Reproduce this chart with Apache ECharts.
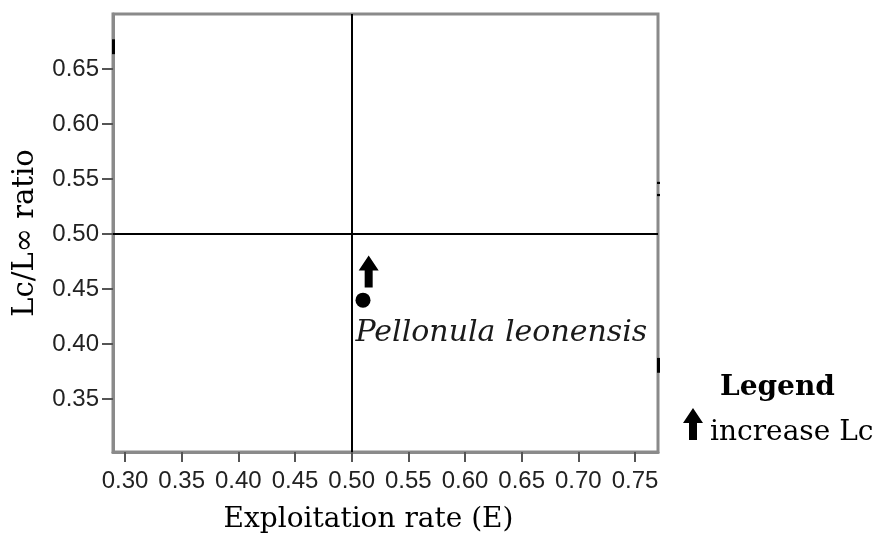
<!DOCTYPE html>
<html><head><meta charset="utf-8">
<script src="https://cdn.jsdelivr.net/npm/echarts@6/dist/echarts.min.js"></script>
<style>html,body{margin:0;padding:0;background:#fff}#c{width:880px;height:540px}</style>
</head><body><div id="c"></div>
<script>
// ---- data ----
const speciesName = 'Pellonula leonensis';
const exploitationRate = [0.51];
const lcRatio = [0.44];
const arrowE = [0.515];
const arrowLc = [0.466];
const arrowName = 'increase Lc';
const xTicks = [0.30, 0.35, 0.40, 0.45, 0.50, 0.55, 0.60, 0.65, 0.70, 0.75];
const yTicks = [0.35, 0.40, 0.45, 0.50, 0.55, 0.60, 0.65];
const refE = 0.5;
const refLc = 0.5;
const xMin = 0.2894, xMax = 0.7703;
const yMin = 0.302, yMax = 0.70;
// small stray dark marks on the frame: [E, Lc from, Lc to]
const leftEdgeMarks = [[0.2894, 0.6635, 0.677]];
const rightEdgeMarks = [[0.7703, 0.374, 0.3875], [0.7703, 0.5455, 0.5475], [0.7703, 0.5345, 0.5365]];
const xTitle = 'Exploitation rate (E)';
const yTitle = 'Lc/L\u221E ratio';
const legendTitle = 'Legend';

const arrowPath = 'path://M10,0 L20,15 L14,15 L14,32 L6,32 L6,15 L0,15 Z';
const serif = 'DejaVu Serif';
const tickFont = 'Liberation Sans';

const edgeSegments = leftEdgeMarks.concat(rightEdgeMarks).map(m => [
  {coord: [m[0], m[1]]}, {coord: [m[0], m[2]]}
]);

const chart = echarts.init(document.getElementById('c'), null, {renderer: 'canvas'});
chart.setOption({
  backgroundColor: '#fff',
  animation: false,
  title: {
    text: legendTitle, left: 720, top: 374, padding: 0,
    textStyle: {fontFamily: serif, fontWeight: 'bold', fontSize: 28, color: '#000'}
  },
  legend: {
    data: [{name: arrowName, icon: arrowPath}],
    left: 683, top: 408, padding: 0,
    itemWidth: 20, itemHeight: 32,
    itemStyle: {color: '#000', opacity: 1},
    formatter: name => '{t|' + name + '}',
    textStyle: {
      fontFamily: serif, fontSize: 28, color: '#000',
      rich: {t: {fontFamily: serif, fontSize: 28, color: '#000', padding: [18, 0, 0, 2]}}
    }
  },
  grid: {
    left: 113, top: 14, right: 222, bottom: 88,
    show: true, borderColor: '#8a8a8a', borderWidth: 3, backgroundColor: 'transparent'
  },
  xAxis: {
    type: 'value', min: xMin, max: xMax,
    name: xTitle, nameLocation: 'middle', nameGap: 54,
    nameTextStyle: {fontFamily: serif, fontSize: 28, color: '#000', padding: [0, 34, 0, 0]},
    axisLine: {show: true, lineStyle: {color: '#8a8a8a', width: 3}},
    axisTick: {show: true, inside: false, length: 10, customValues: xTicks,
      lineStyle: {color: '#555', width: 2}},
    axisLabel: {show: true, customValues: xTicks, margin: 17,
      formatter: v => v.toFixed(2),
      fontFamily: tickFont, fontSize: 24, color: '#222'},
    splitLine: {show: false}
  },
  yAxis: {
    type: 'value', min: yMin, max: yMax,
    name: yTitle, nameLocation: 'middle', nameGap: 73, nameRotate: 90,
    nameTextStyle: {fontFamily: serif, fontSize: 29, color: '#000'},
    axisLine: {show: true, lineStyle: {color: '#8a8a8a', width: 3}},
    axisTick: {show: true, inside: false, length: 11, customValues: yTicks,
      lineStyle: {color: '#555', width: 2}},
    axisLabel: {show: true, customValues: yTicks, margin: 14,
      formatter: v => v.toFixed(2),
      fontFamily: tickFont, fontSize: 24, color: '#222'},
    splitLine: {show: false}
  },
  series: [
    {
      name: speciesName,
      type: 'scatter',
      symbol: 'circle', symbolSize: 15,
      itemStyle: {color: '#000', opacity: 1},
      data: exploitationRate.map((e, i) => [e, lcRatio[i]]),
      label: {
        show: true, formatter: speciesName,
        position: [0, 41], align: 'left', verticalAlign: 'middle',
        fontFamily: serif, fontStyle: 'italic', fontSize: 30, color: '#1a1a1a', opacity: 1
      },
      markLine: {
        silent: true, symbol: 'none', animation: false,
        label: {show: false},
        lineStyle: {color: '#000', width: 2, type: 'solid', opacity: 1},
        data: [{xAxis: refE}, {yAxis: refLc}]
      },
      z: 3
    },
    {
      name: arrowName,
      type: 'scatter',
      symbol: arrowPath, symbolSize: [20, 32],
      itemStyle: {color: '#000', opacity: 1},
      data: arrowE.map((e, i) => [e, arrowLc[i]]),
      markLine: {
        silent: true, symbol: 'none', animation: false,
        label: {show: false},
        lineStyle: {color: '#000', width: 3, type: 'solid', opacity: 1},
        data: edgeSegments
      },
      z: 3
    }
  ]
});
</script>
</body></html>
